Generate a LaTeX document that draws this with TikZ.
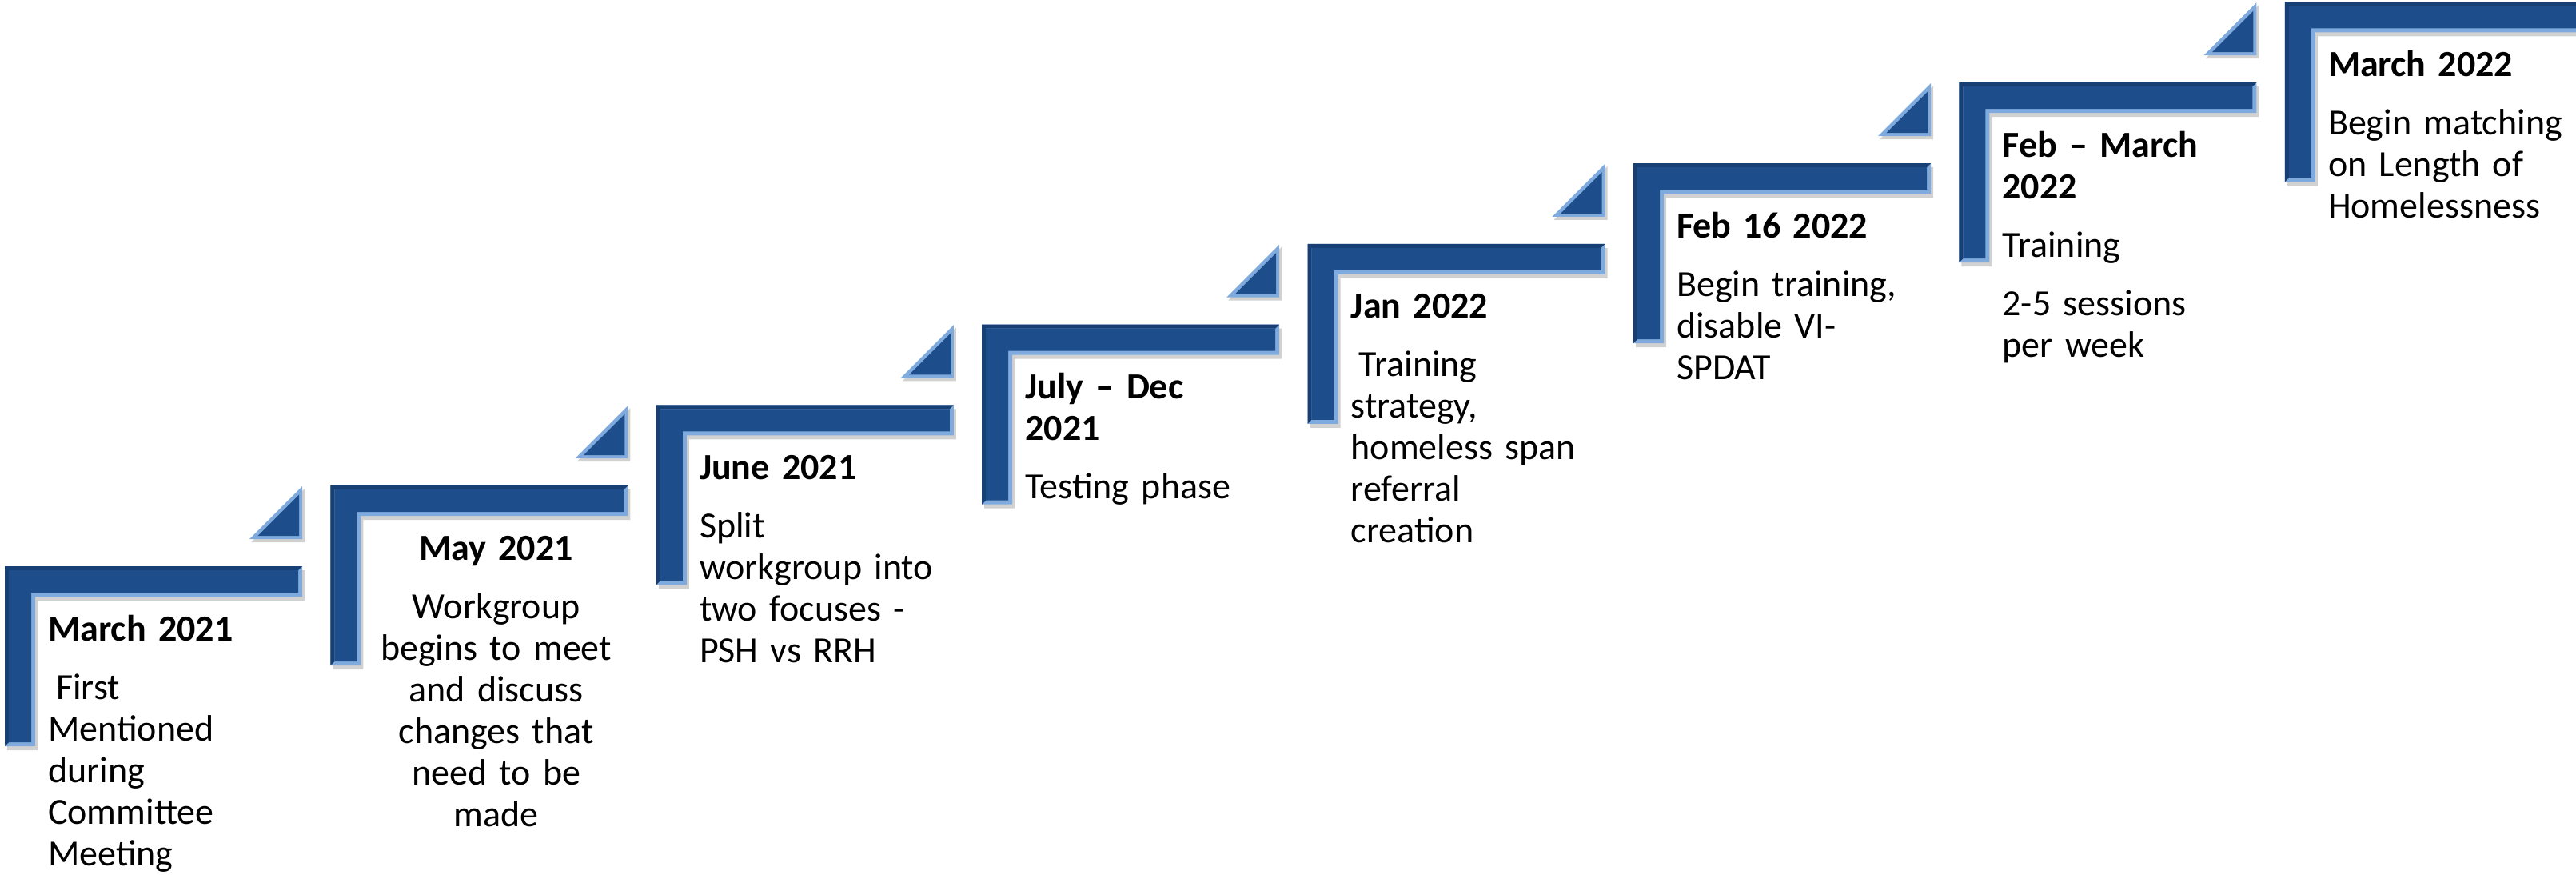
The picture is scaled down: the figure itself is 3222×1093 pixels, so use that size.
\documentclass[tikz,border=0pt]{standalone}
\usepackage{fontspec}
\setmainfont{Carlito}
\usepackage{xcolor}
\usepackage{tikz}

\definecolor{barblue}{HTML}{1E4D8C}
\definecolor{bardark}{HTML}{183F73}
\definecolor{barlight}{HTML}{7FAADD}

\begin{document}
\begin{tikzpicture}[x=1pt,y=-1pt,
  stepshadow/.style={fill=black,opacity=0.18},
  steprim/.style={fill=barlight},
  stepedge/.style={fill=bardark},
  stepface/.style={fill=barblue},
  steptext/.style={anchor=base west,inner sep=0pt,text width=306pt,align=left,
    font=\fontsize{46}{52}\selectfont}]
\useasboundingbox (0,0) rectangle (3222,1093);
\clip (0,0) rectangle (3222,1093);

% the stair steps
\foreach \i in {0,...,7}{
  \pgfmathsetmacro\xa{6+407.4*\i}
  \pgfmathsetmacro\ya{708-100.8*\i}
  \begin{scope}[shift={(\xa,\ya)}]
    \fill[stepshadow] (3,5) -- (375,5) -- (375,43) -- (41,43) -- (41,230) -- (3,230) -- cycle;
    \fill[steprim] (0,0) -- (372,0) -- (372,38) -- (38,38) -- (38,225) -- (0,225) -- cycle;
    \fill[stepedge] (0,0) -- (372,0) -- (367,5) -- (5,5) -- (5,220) -- (0,225) -- cycle;
    \fill[stepface] (5,5) -- (367,5) -- (367,33) -- (33,33) -- (33,220) -- (5,220) -- cycle;
  \end{scope}
}

% the small corner triangles
\foreach \i in {0,...,6}{
  \pgfmathsetmacro\xa{6+407.4*\i}
  \pgfmathsetmacro\ya{708-100.8*\i}
  \begin{scope}[shift={(\xa,\ya)}]
    \fill[stepshadow] (308,-30) -- (375,-30) -- (375,-97) -- cycle;
    \fill[steprim] (306,-34) -- (372,-34) -- (372,-100) -- cycle;
    \fill[stepface] (316.5,-38) -- (368,-38) -- (368,-89.5) -- cycle;
  \end{scope}
}

\node (T1)[steptext] at (60,801) {\textbf{March 2021}\\[21pt]
  \hspace*{10pt}First\\Mentioned\\during\\Committee\\Meeting};
\node (T2)[steptext,align=center] at (467.4,700.2) {\textbf{May 2021}\\[21pt]
  Workgroup\\begins to meet\\and discuss\\changes that\\need to be\\made};
\node (T3)[steptext] at (874.8,599.4) {\textbf{June 2021}\\[21pt]
  Split\\workgroup into\\two focuses -\\PSH vs RRH};
\node (T4)[steptext] at (1282.2,498.6) {\textbf{July – Dec}\\\textbf{2021}\\[21pt]
  Testing phase};
\node (T5)[steptext] at (1689.6,397.8) {\textbf{Jan 2022}\\[21pt]
  \hspace*{10pt}Training\\strategy,\\homeless span\\referral\\creation};
\node (T6)[steptext] at (2097,297) {\textbf{Feb 16 2022}\\[21pt]
  Begin training,\\disable VI-\\SPDAT};
\node (T7)[steptext] at (2504.4,196.2) {\textbf{Feb – March}\\\textbf{2022}\\[21pt]
  Training\\[21pt]2-5 sessions\\per week};
\node (T8)[steptext] at (2911.8,95.4) {\textbf{March 2022}\\[21pt]
  Begin matching\\on Length of\\Homelessness};
\end{tikzpicture}
\end{document}
